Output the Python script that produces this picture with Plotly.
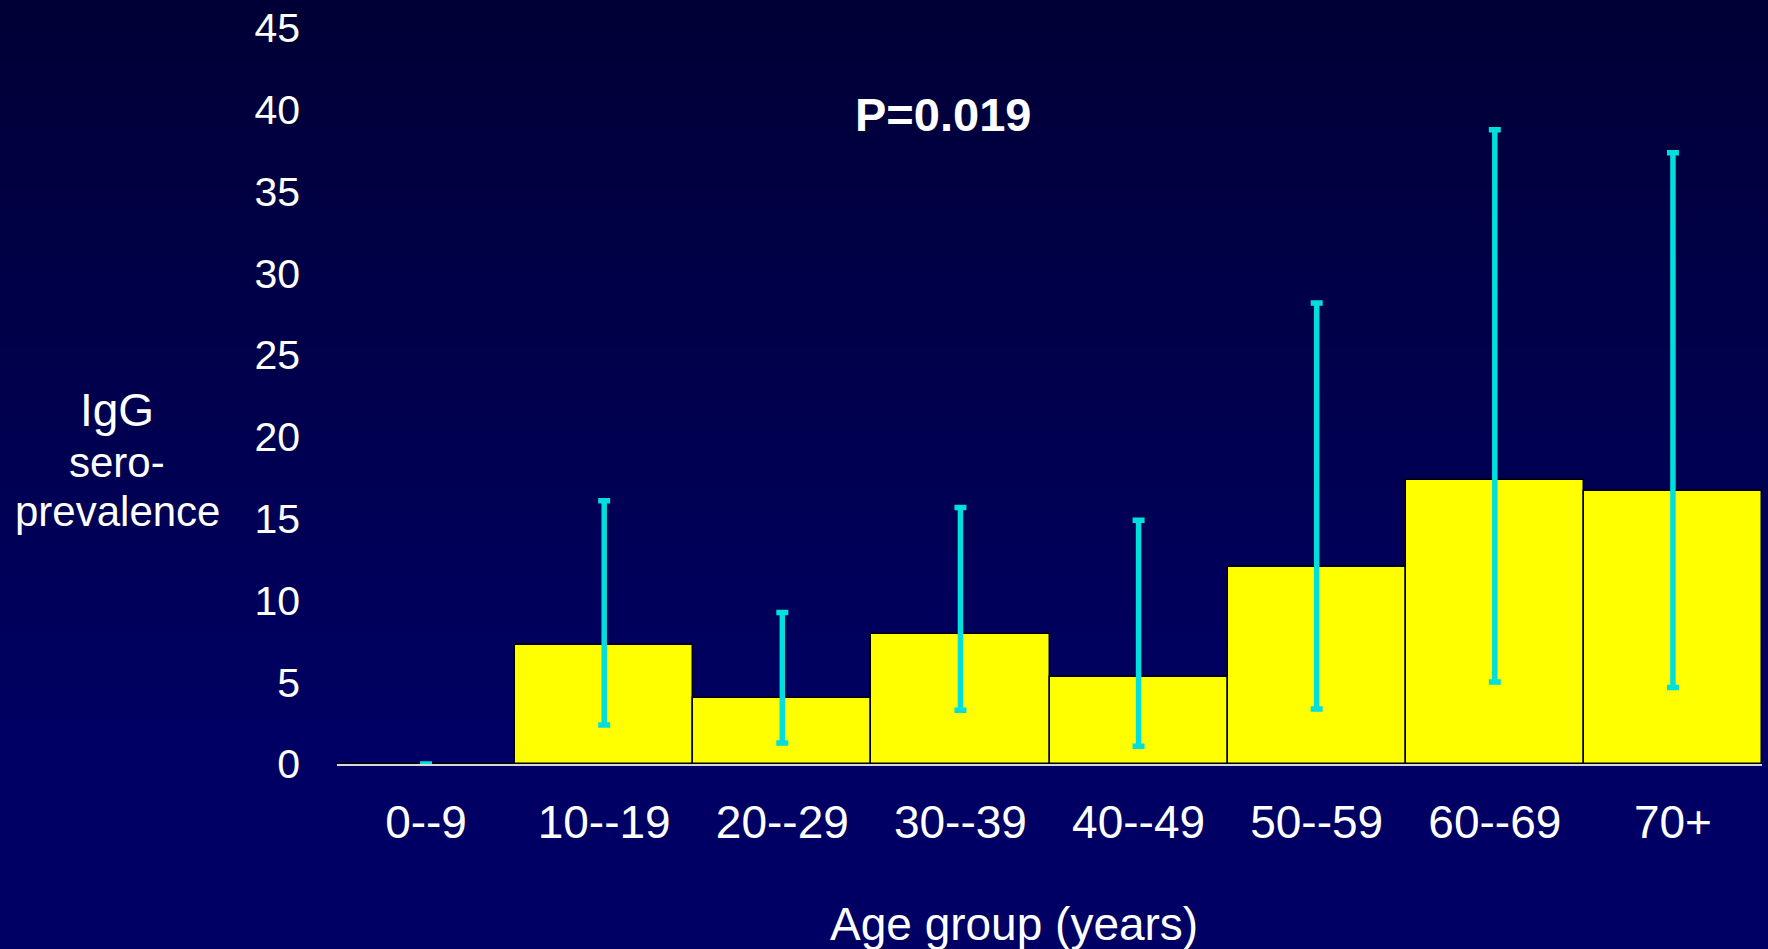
import plotly.graph_objects as go

# ---- data ----
age_groups = ["0--9", "10--19", "20--29", "30--39", "40--49", "50--59", "60--69", "70+"]
prevalence = [0, 7.25, 4.05, 7.92, 5.34, 12.04, 17.35, 16.67]
ci_upper = [0, 16.1, 9.27, 15.68, 14.9, 28.19, 38.78, 37.38]
ci_lower = [0, 2.38, 1.28, 3.29, 1.08, 3.36, 5.01, 4.68]
y_ticks = [0, 5, 10, 15, 20, 25, 30, 35, 40, 45]
p_text = "P=0.019"

err_plus = [u - m for u, m in zip(ci_upper, prevalence)]
err_minus = [m - l for m, l in zip(prevalence, ci_lower)]

FONT = "Arial, 'Liberation Sans', sans-serif"

W, H = 1768, 949
L, R, T, B = 337, 6, 28, 185
PW = W - L - R
PH = H - T - B


def px_x(p):
    return (p - L) / PW


def px_y(p):
    return (H - B - p) / PH


fig = go.Figure()
fig.add_trace(go.Bar(
    x=age_groups,
    y=prevalence,
    width=1,
    marker=dict(color="#ffff00", line=dict(color="#000000", width=1.5)),
    error_y=dict(type="data", array=err_plus, arrayminus=err_minus,
                 color="#00dede", thickness=5.5, width=6, visible=True),
    hoverinfo="x+y",
))

# background gradient (dark navy at top to brighter navy at bottom)
shapes = []
n = 60
top_c = (0, 0, 54)
bot_c = (0, 0, 100)
for i in range(n):
    f = i / (n - 1)
    c = tuple(int(round(top_c[k] + (bot_c[k] - top_c[k]) * min(1, f * 1.25))) for k in range(3))
    y0 = -B / PH + (H / PH) * (1 - (i + 1) / n)
    y1 = -B / PH + (H / PH) * (1 - i / n) + 0.002
    shapes.append(dict(type="rect", xref="paper", yref="paper",
                       x0=-L / PW - 0.01, x1=1 + R / PW + 0.01, y0=y0, y1=y1,
                       fillcolor="rgb(%d,%d,%d)" % c, line=dict(width=0), layer="below"))

annotations = [
    dict(text="<b>" + p_text + "</b>", x=px_x(943), y=px_y(114), xref="paper", yref="paper",
         showarrow=False, xanchor="center", yanchor="middle",
         font=dict(family=FONT, size=47, color="white")),
    dict(text="Age group (years)", x=px_x(1014), y=px_y(924), xref="paper", yref="paper",
         showarrow=False, xanchor="center", yanchor="middle",
         font=dict(family=FONT, size=46, color="white")),
    dict(text="IgG", x=px_x(117), y=px_y(410), xref="paper", yref="paper",
         showarrow=False, xanchor="center", yanchor="middle",
         font=dict(family=FONT, size=46, color="white")),
    dict(text="sero-", x=px_x(117), y=px_y(462), xref="paper", yref="paper",
         showarrow=False, xanchor="center", yanchor="middle",
         font=dict(family=FONT, size=42, color="white")),
    dict(text="prevalence", x=px_x(117), y=px_y(511), xref="paper", yref="paper",
         showarrow=False, xanchor="center", yanchor="middle",
         font=dict(family=FONT, size=42, color="white")),
]

fig.update_layout(
    width=W, height=H,
    margin=dict(l=L, r=R, t=T, b=B, pad=0),
    paper_bgcolor="#000050",
    plot_bgcolor="rgba(0,0,0,0)",
    bargap=0,
    showlegend=False,
    shapes=shapes,
    annotations=annotations,
    font=dict(family=FONT, color="white"),
    xaxis=dict(
        showgrid=False, zeroline=False, showline=True, linecolor="#d8d8d8", linewidth=2,
        ticks="", tickfont=dict(family=FONT, size=46, color="white"),
        ticklabelstandoff=17, range=[-0.5, 7.5],
    ),
    yaxis=dict(
        range=[0, 45], tickvals=y_ticks, showgrid=False, zeroline=False, showline=False,
        ticks="", tickfont=dict(family=FONT, size=41, color="white"),
        ticklabelstandoff=36,
    ),
)

fig.write_html("out.html")
